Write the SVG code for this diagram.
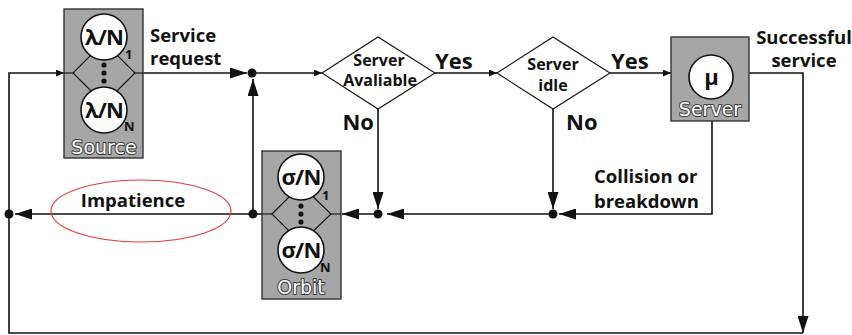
<svg xmlns="http://www.w3.org/2000/svg" width="852" height="335" viewBox="0 0 852 335">
  <style>
    .wire { fill: none; stroke: #111; stroke-width: 1.6; }
    .thin { fill: none; stroke: #111; stroke-width: 1.1; }
    .box { fill: #a6a6a6; stroke: #333; stroke-width: 1.4; }
    .ball { fill: #fff; stroke: #111; stroke-width: 1.6; }
    .dia { fill: #fff; stroke: #111; stroke-width: 1.1; }
    .dot { fill: #111; }
    .lbl { font-family: "Open Sans", "Noto Sans", sans-serif; font-weight: 700; fill: #111; }
    .big { font-size: 18.5px; }
    .ans { font-size: 22px; }
    .q { font-size: 16px; text-anchor: middle; }
    .rate { font-family: "Open Sans", "Noto Sans", sans-serif; font-weight: 700; font-size: 22px; text-anchor: middle; fill: #111; letter-spacing: -0.8px; }
    .sub { font-family: "Open Sans", "Noto Sans", sans-serif; font-weight: 700; font-size: 13px; fill: #111; }
    .cap { font-family: "DejaVu Sans", sans-serif; font-size: 19px; text-anchor: middle; fill: #fff; stroke: #3a3a3a; stroke-width: 2; paint-order: stroke; stroke-linejoin: round; }
  </style>
  <defs>
    <marker id="head" markerUnits="userSpaceOnUse" markerWidth="18" markerHeight="11" refX="17" refY="5.5" orient="auto">
      <path d="M0,0 L17,5.5 L0,11 z" fill="#111"/>
    </marker>
    <marker id="tip" markerUnits="userSpaceOnUse" markerWidth="9" markerHeight="7" refX="8" refY="3.5" orient="auto">
      <path d="M0,0 L8,3.5 L0,7 z" fill="#111"/>
    </marker>
  </defs>

  <!-- connectors -->
  <g id="connectors">
    <!-- return loop into the source -->
    <polyline class="wire" points="803,333 9,333 9,73 64,73" marker-end="url(#tip)"/>
    <!-- source to first junction -->
    <line class="wire" x1="143" y1="73" x2="247" y2="73" marker-end="url(#head)"/>
    <!-- junction to availability test -->
    <line class="wire" x1="253" y1="73" x2="322" y2="73" marker-end="url(#tip)"/>
    <!-- yes: available to idle test -->
    <line class="wire" x1="435" y1="73" x2="497" y2="73" marker-end="url(#tip)"/>
    <!-- yes: idle to server -->
    <line class="wire" x1="610" y1="73" x2="671" y2="73" marker-end="url(#tip)"/>
    <!-- successful service back round -->
    <polyline class="wire" points="749,73 803,73 803,333" marker-end="url(#head)"/>
    <!-- no branches -->
    <line class="wire" x1="378" y1="109" x2="378" y2="209" marker-end="url(#head)"/>
    <line class="wire" x1="553" y1="109" x2="553" y2="209" marker-end="url(#head)"/>
    <!-- collision or breakdown -->
    <polyline class="wire" points="712,121 712,214 559,214" marker-end="url(#head)"/>
    <line class="wire" x1="553" y1="214" x2="387" y2="214" marker-end="url(#head)"/>
    <line class="wire" x1="378" y1="214" x2="342" y2="214" marker-end="url(#head)"/>
    <!-- orbit out to retry junction -->
    <line class="wire" x1="262" y1="214" x2="253" y2="214"/>
    <line class="wire" x1="253" y1="214" x2="253" y2="79" marker-end="url(#head)"/>
    <!-- impatience exit -->
    <line class="wire" x1="253" y1="214" x2="15" y2="214" marker-end="url(#head)"/>
    <circle class="dot" cx="252" cy="73" r="4.5"/>
    <circle class="dot" cx="253" cy="214" r="4.5"/>
    <circle class="dot" cx="378" cy="214" r="4.5"/>
    <circle class="dot" cx="553" cy="214" r="4.5"/>
    <circle class="dot" cx="9" cy="214" r="4.5"/>
    <ellipse cx="141" cy="211" rx="90" ry="31" fill="none" stroke="#e53a3a" stroke-width="1.1"/>
  </g>

  <!-- source: N parallel arrival streams -->
  <g id="source">
    <rect class="box" x="64" y="9" width="79" height="149"/>
    <line class="thin" x1="64" y1="73" x2="73" y2="73"/>
    <line class="thin" x1="135" y1="73" x2="143" y2="73"/>
    <polygon class="thin" points="73,73 104,42 135,73 104,104"/>
    <circle class="ball" cx="104" cy="37" r="23"/>
    <circle class="ball" cx="104" cy="110" r="23"/>
    <text class="rate" x="104" y="45">λ/N</text>
    <text class="rate" x="104" y="118">λ/N</text>
    <circle class="dot" cx="104" cy="65" r="2.6"/>
    <circle class="dot" cx="104" cy="73" r="2.6"/>
    <circle class="dot" cx="104" cy="81" r="2.6"/>
    <text class="sub" x="125" y="59">1</text>
    <text class="sub" x="124" y="131">N</text>
    <text class="cap" x="104" y="154">Source</text>
  </g>

  <!-- orbit: N retrial streams -->
  <g id="orbit">
    <rect class="box" x="262" y="151" width="79" height="148"/>
    <line class="thin" x1="262" y1="214" x2="272" y2="214"/>
    <line class="thin" x1="331" y1="214" x2="341" y2="214"/>
    <polygon class="thin" points="272,214 301,185 331,214 301,243"/>
    <circle class="ball" cx="301" cy="177" r="23"/>
    <circle class="ball" cx="301" cy="250" r="23"/>
    <text class="rate" x="301" y="185">σ/N</text>
    <text class="rate" x="301" y="258">σ/N</text>
    <circle class="dot" cx="301" cy="206" r="2.6"/>
    <circle class="dot" cx="301" cy="214" r="2.6"/>
    <circle class="dot" cx="301" cy="222" r="2.6"/>
    <text class="sub" x="322" y="200">1</text>
    <text class="sub" x="320" y="272">N</text>
    <text class="cap" x="301" y="294">Orbit</text>
  </g>

  <!-- decision: server available -->
  <g id="available">
    <polygon class="dia" points="322,73 378,37 435,73 378,109"/>
    <text class="lbl q" x="379" y="66">Server</text>
    <text class="lbl q" x="380" y="86">Avaliable</text>
  </g>

  <!-- decision: server idle -->
  <g id="idle">
    <polygon class="dia" points="497,73 553,37 610,73 553,109"/>
    <text class="lbl q" x="553" y="70">Server</text>
    <text class="lbl q" x="553" y="91">idle</text>
  </g>

  <!-- server -->
  <g id="server">
    <rect class="box" x="671" y="37" width="78" height="84"/>
    <circle class="ball" cx="711" cy="77" r="22"/>
    <text class="rate" x="711" y="85">μ</text>
    <text class="cap" x="710" y="116">Server</text>
  </g>

  <!-- edge labels -->
  <g id="labels">
    <text class="lbl big" x="150" y="42">Service</text>
    <text class="lbl big" x="150" y="65">request</text>
    <text class="lbl ans" x="435" y="69">Yes</text>
    <text class="lbl ans" x="611" y="69">Yes</text>
    <text class="lbl ans" x="374" y="130" text-anchor="end">No</text>
    <text class="lbl ans" x="566" y="130">No</text>
    <text class="lbl big" x="804" y="44" text-anchor="middle">Successful</text>
    <text class="lbl big" x="804" y="67" text-anchor="middle">service</text>
    <text class="lbl big" x="594" y="183">Collision or</text>
    <text class="lbl big" x="594" y="208">breakdown</text>
    <text class="lbl big" x="133" y="207" text-anchor="middle">Impatience</text>
  </g>
</svg>
